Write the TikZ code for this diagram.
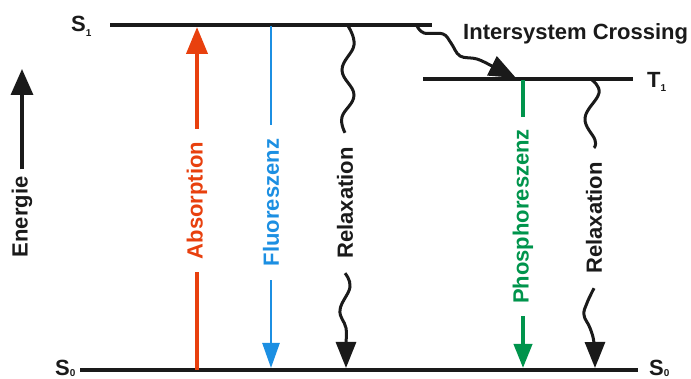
\documentclass[tikz,border=0pt]{standalone}
\usepackage{fontspec}
\setmainfont{Liberation Sans}
\usetikzlibrary{arrows.meta}
\definecolor{ink}{HTML}{1A1A1A}
\definecolor{absred}{HTML}{E8400E}
\definecolor{fluoblue}{HTML}{1C8FE2}
\definecolor{phosgreen}{HTML}{00944C}
\newcommand\lvsub[2]{\raisebox{-#1}{\fontsize{10}{10}\selectfont\bfseries #2}}
\begin{document}
\begin{tikzpicture}[x=1pt,y=-1pt,
  lvl/.style={draw=ink, line width=3.5pt},
  lvltxt/.style={text=ink, inner sep=0pt, anchor=base west, font=\fontsize{22}{24}\selectfont\bfseries},
  rlbl/.style={rotate=90, inner sep=0pt, font=\fontsize{22}{24}\selectfont\bfseries},
  wavy/.style={draw=ink, line width=3pt},
  bigtip/.style={-{Triangle[length=26pt,width=20pt]}},
  midtip/.style={-{Triangle[length=24pt,width=18pt]}}]
\useasboundingbox (0,0) rectangle (691,379);

% energy levels
\coordinate (s1l) at (110,25); \coordinate (s1r) at (432,25);
\coordinate (t1l) at (423,79); \coordinate (t1r) at (633,79);
\coordinate (s0l) at (80,370); \coordinate (s0r) at (638,370);
\draw[lvl] (s1l) -- (s1r);
\draw[lvl] (t1l) -- (t1r);
\draw[lvl] (s0l) -- (s0r);

\node[lvltxt] (lS1) at (71,32) {S\lvsub{5pt}{1}};
\node[lvltxt] (lT1) at (647,88) {T\lvsub{4pt}{1}};
\node[lvltxt] (lS0a) at (55,375) {S\lvsub{1.5pt}{0}};
\node[lvltxt] (lS0b) at (649,375) {S\lvsub{1.5pt}{0}};

% Energie axis
\node[rlbl, text=ink] (en) at (22,217) {Energie};
\coordinate (entip) at (22,69);
\draw[ink, line width=3.5pt, -{Triangle[length=26pt,width=22pt]}, shorten <=7pt] (en.east) -- (entip);

% Absorption
\coordinate (ab0) at (197,370); \coordinate (ab1) at (197,27);
\node[rlbl, text=absred, minimum width=143pt] (abl) at (197,200.5) {Absorption};
\draw[absred, line width=4pt] (ab0) -- (abl);
\draw[absred, line width=4pt, -{Triangle[length=27pt,width=21pt]}] (abl) -- (ab1);

% Fluoreszenz
\coordinate (fl0) at (271,26); \coordinate (fl1) at (271,368);
\node[rlbl, text=fluoblue, minimum width=155pt] (fll) at (271,202.5) {Fluoreszenz};
\draw[fluoblue, line width=2.5pt] (fl0) -- (fll);
\draw[fluoblue, line width=2.5pt, -{Triangle[length=25pt,width=17pt]}] (fll) -- (fl1);

% Relaxation (singlet)
\coordinate (r1a) at (348,26); \coordinate (r1b) at (346,368);
\node[rlbl, text=ink, minimum width=140pt] (r1l) at (345,203) {Relaxation};
\draw[wavy] plot[smooth, tension=0.7] coordinates {(r1a) (354,45) (342,70) (354,95) (342,117) (r1l.east)};
\draw[wavy, bigtip] plot[smooth, tension=0.7] coordinates {(r1l.west) (350,287) (340,310) (346,328) (346,345) (r1b)};

% Intersystem crossing
\coordinate (isa) at (417,26); \coordinate (ist) at (516,78);
\draw[wavy, -{Triangle[length=27pt,width=21pt]}] plot[smooth, tension=0.6] coordinates {(isa) (424,33) (443,34) (451,43) (460,56) (477,59) (494,67) (ist)};
\node[text=ink, inner sep=0pt, anchor=base west, font=\fontsize{22}{24}\selectfont\bfseries] (isc) at (463,40) {Intersystem Crossing};

% Phosphoreszenz
\coordinate (ph0) at (523,80); \coordinate (ph1) at (523,368);
\node[rlbl, text=phosgreen, minimum width=199pt] (phl) at (523,216.5) {Phosphoreszenz};
\draw[phosgreen, line width=4pt] (ph0) -- (phl);
\draw[phosgreen, line width=4pt, midtip] (phl) -- (ph1);

% Relaxation (triplet)
\coordinate (r2a) at (592,80); \coordinate (r2b) at (595,368);
\node[rlbl, text=ink, minimum width=140pt] (r2l) at (594,218) {Relaxation};
\draw[wavy] plot[smooth, tension=0.7] coordinates {(r2a) (599,93) (585,118) (595,140) (r2l.east)};
\draw[wavy, bigtip] plot[smooth, tension=0.7] coordinates {(r2l.west) (587,303) (584,315) (590,328) (594,343) (r2b)};
\end{tikzpicture}
\end{document}
